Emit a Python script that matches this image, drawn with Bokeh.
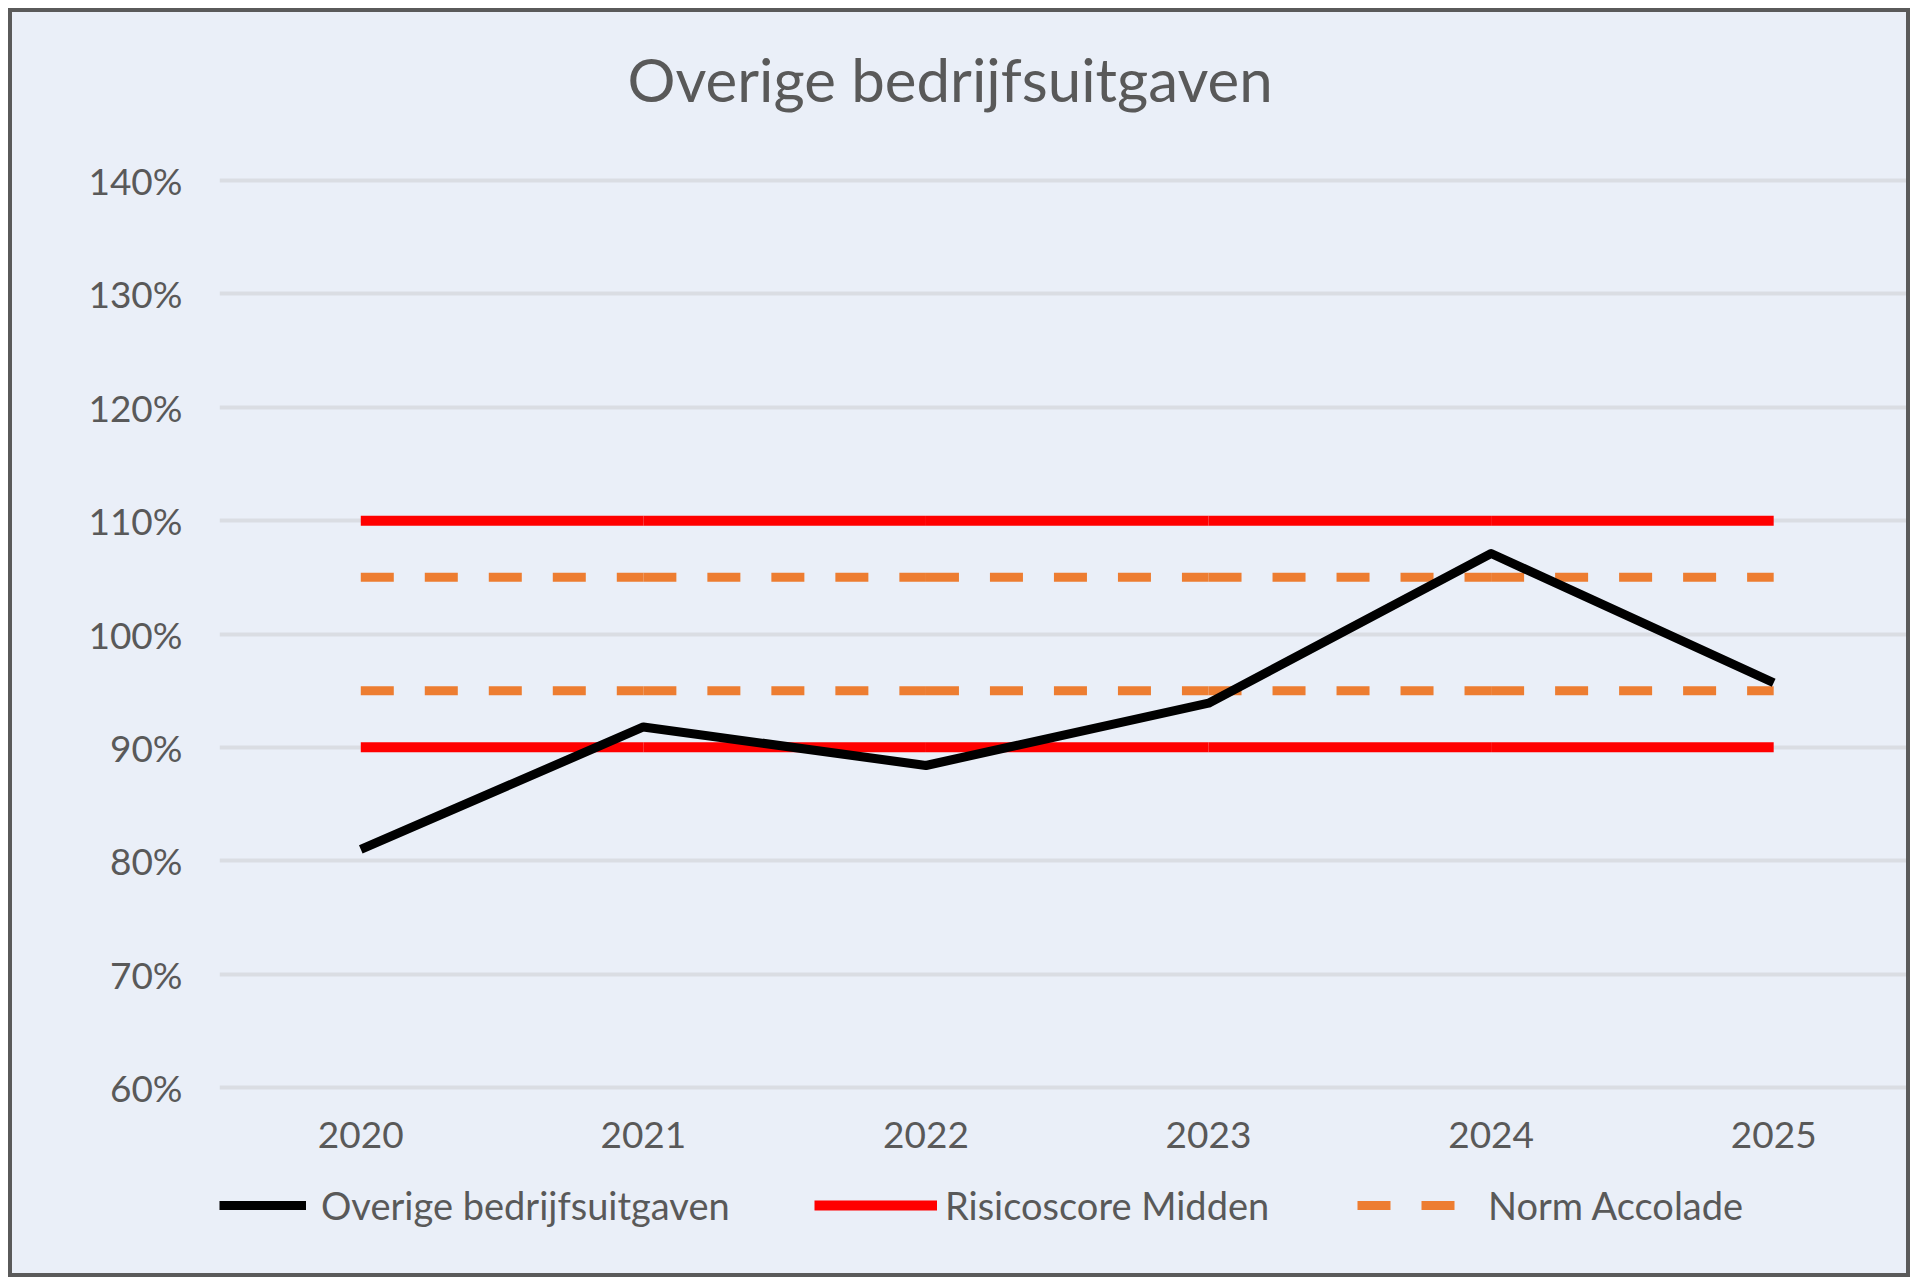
from bokeh.plotting import figure
from bokeh.layouts import column
from bokeh.models import (Range1d, FixedTicker, PrintfTickFormatter, Legend,
                          LegendItem, ColumnDataSource)
from bokeh.embed import file_html
from bokeh.resources import INLINE

# ---- data ----
jaren = [2020, 2021, 2022, 2023, 2024, 2025]
overige_bedrijfsuitgaven = [81.0, 91.8, 88.4, 93.9, 107.1, 95.7]
risico_boven = [110, 110, 110, 110, 110, 110]
risico_onder = [90, 90, 90, 90, 90, 90]
norm_boven = [105, 105, 105, 105, 105, 105]
norm_onder = [95, 95, 95, 95, 95, 95]
y_ticks = [60, 70, 80, 90, 100, 110, 120, 130, 140]

titel = "Overige bedrijfsuitgaven"
naam_lijn = "Overige bedrijfsuitgaven"
naam_risico = "Risicoscore Midden"
naam_norm = "Norm Accolade"

FONT = "Lato"
GREY = "#595959"
BG = "#eaeff8"

STYLE_LIJN = dict(line_color="#000000", line_width=9, line_join="round")
STYLE_RISICO = dict(line_color="#ff0000", line_width=10, line_cap="butt")
STYLE_NORM = dict(line_color="#ed7d31", line_width=9, line_dash="33 31", line_cap="butt")


def segments(xs, *series):
    d = dict(x0=[], x1=[], y0=[], y1=[])
    for ys in series:
        for i in range(len(xs) - 1):
            d["x0"].append(xs[i]); d["x1"].append(xs[i + 1])
            d["y0"].append(ys[i]); d["y1"].append(ys[i + 1])
    return ColumnDataSource(d)


# ---- main chart ----
p = figure(width=1894, height=1158, output_backend="svg", toolbar_location=None,
           x_range=Range1d(2019.5, 2025.47), y_range=Range1d(59.735, 140.265),
           min_border_left=207, min_border_right=0, min_border_top=165,
           min_border_bottom=80)
p.background_fill_alpha = 0
p.border_fill_color = BG
p.outline_line_color = None

p.title.text = titel
p.title.text_font = FONT
p.title.text_font_size = "60px"
p.title.text_font_style = "normal"
p.title.text_color = GREY
p.title.align = "left"
p.title.offset = 408
p.title.standoff = 40
p.title.padding = dict(left=0, right=0, top=0, bottom=43)

p.xaxis.ticker = FixedTicker(ticks=jaren)
p.yaxis.ticker = FixedTicker(ticks=y_ticks)
p.yaxis.formatter = PrintfTickFormatter(format="%d%%")
for ax in (p.xaxis[0], p.yaxis[0]):
    ax.axis_line_color = None
    ax.major_tick_line_color = None
    ax.minor_tick_line_color = None
    ax.major_label_text_font = FONT
    ax.major_label_text_font_size = "37px"
    ax.major_label_text_color = GREY
p.xaxis.major_label_standoff = 25
p.yaxis.major_label_standoff = 31

p.xgrid.grid_line_color = None
p.ygrid.grid_line_color = "#dadde3"
p.ygrid.grid_line_width = 4

p.segment("x0", "y0", "x1", "y1", source=segments(jaren, risico_boven, risico_onder), **STYLE_RISICO)
p.segment("x0", "y0", "x1", "y1", source=segments(jaren, norm_boven, norm_onder), **STYLE_NORM)
p.line(jaren, overige_bedrijfsuitgaven, **STYLE_LIJN)

# ---- legend strip ----
q = figure(width=1894, height=103, output_backend="svg", toolbar_location=None,
           x_axis_type=None, y_axis_type=None,
           x_range=Range1d(0, 1), y_range=Range1d(0, 1),
           min_border=0, min_border_left=0, min_border_right=0,
           min_border_top=0, min_border_bottom=0)
q.background_fill_alpha = 0
q.border_fill_color = BG
q.outline_line_color = None

# legend proxies (outside the strip's visible range)
leg_lijn = q.line(jaren, overige_bedrijfsuitgaven, **STYLE_LIJN)
leg_risico = q.line(jaren, risico_boven, **STYLE_RISICO)
leg_norm = q.line(jaren, norm_boven, **STYLE_NORM)

common = dict(orientation="horizontal", glyph_height=46, padding=0, margin=0,
              background_fill_alpha=0, border_line_color=None,
              label_text_font=FONT, label_text_font_size="38px", label_text_color=GREY)
for label, rend, x, gw, so in [(naam_lijn, leg_lijn, 0, 87, 15),
                               (naam_risico, leg_risico, 595, 123, 8),
                               (naam_norm, leg_norm, 1138, 120, 11)]:
    q.add_layout(Legend(items=[LegendItem(label=label, renderers=[rend])],
                        location=(x, 45), glyph_width=gw, label_standoff=so, **common),
                 "center")

layout = column(p, q, spacing=0,
                styles={"margin": "12px 0 0 12px", "outline": "4px solid #5a5a5a",
                        "background-color": BG})
open("out.html", "w").write(file_html(layout, INLINE))
